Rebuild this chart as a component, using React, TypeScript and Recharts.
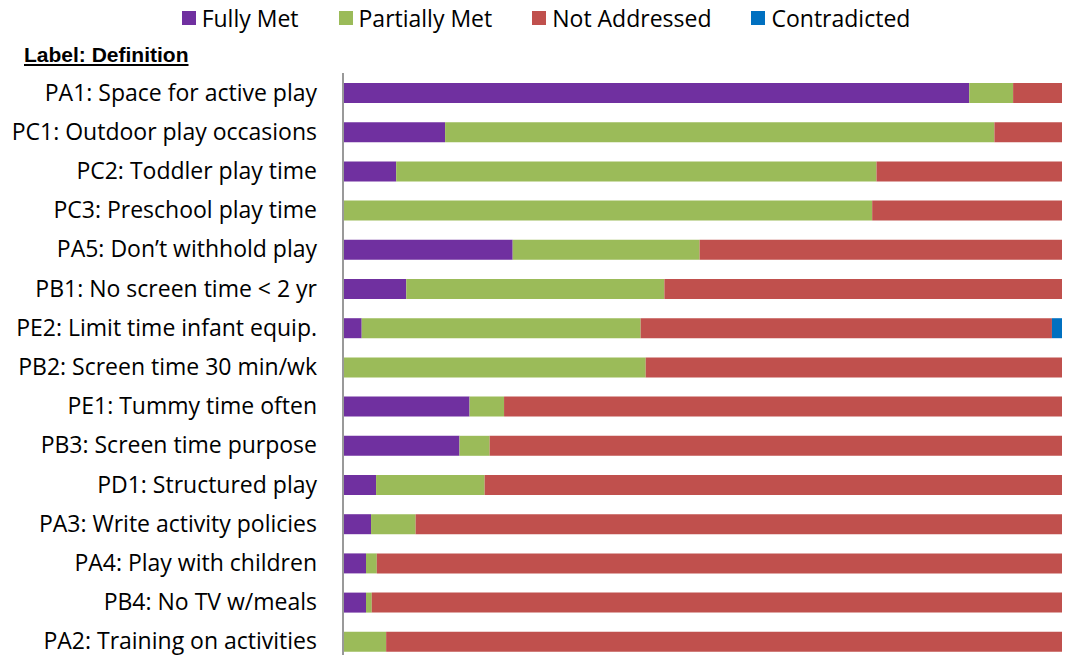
import React from 'react';
import { BarChart, Bar, XAxis, YAxis, Legend } from 'recharts';

const labels = [
  'PA1: Space for active play',
  'PC1: Outdoor play occasions',
  'PC2: Toddler play time',
  'PC3: Preschool play time',
  'PA5: Don\u2019t withhold play',
  'PB1: No screen time < 2 yr',
  'PE2: Limit time infant equip.',
  'PB2: Screen time 30 min/wk',
  'PE1: Tummy time often',
  'PB3: Screen time purpose',
  'PD1: Structured play',
  'PA3: Write activity policies',
  'PA4: Play with children',
  'PB4: No TV w/meals',
  'PA2: Training on activities',
];

// share of policies, percent
const fullyMet = [87.1, 14.2, 7.4, 0, 23.6, 8.8, 2.6, 0, 17.6, 16.2, 4.6, 3.9, 3.2, 3.2, 0];
const partiallyMet = [6.1, 76.4, 66.8, 73.6, 26.0, 35.9, 38.8, 42.1, 4.8, 4.2, 15.1, 6.2, 1.5, 0.8, 6.0];
const notAddressed = [6.8, 9.4, 25.8, 26.4, 50.4, 55.3, 57.2, 57.9, 77.6, 79.6, 80.3, 89.9, 95.3, 96.0, 94.0];
const contradicted = [0, 0, 0, 0, 0, 0, 1.4, 0, 0, 0, 0, 0, 0, 0, 0];

const series = [
  { key: 'fully', name: 'Fully Met', color: '#7030A0' },
  { key: 'partial', name: 'Partially Met', color: '#9BBB59' },
  { key: 'notAddr', name: 'Not Addressed', color: '#C0504D' },
  { key: 'contra', name: 'Contradicted', color: '#0070C0' },
];

const data = labels.map((label, i) => ({
  label,
  fully: fullyMet[i],
  partial: partiallyMet[i],
  notAddr: notAddressed[i],
  contra: contradicted[i],
}));

const FONT = '"Open Sans", "Noto Sans", sans-serif';

const LegendContent = () => (
  <div
    style={{
      height: 30,
      display: 'flex',
      justifyContent: 'center',
      alignItems: 'center',
      paddingLeft: 30,
      fontFamily: FONT,
      fontSize: 23,
      color: '#000',
    }}
  >
    {series.map((s, i) => (
      <span key={s.key} style={{ display: 'inline-flex', alignItems: 'center', marginLeft: i ? 40 : 0 }}>
        <span style={{ width: 14, height: 14, background: s.color, marginRight: 6, display: 'inline-block' }} />
        {s.name}
      </span>
    ))}
  </div>
);

const Tick = (props: any) => {
  const { x, y, payload } = props;
  return (
    <text x={x} y={y} dy={8} textAnchor="end" fontFamily={FONT} fontSize={23} fill="#000">
      {payload.value}
    </text>
  );
};

export default function App() {
  return (
    <div style={{ position: 'relative', width: 1073, height: 655, overflow: 'hidden', background: '#fff' }}>
      <style>{'body{margin:0}'}</style>
      <div
        style={{
          position: 'absolute',
          left: 24,
          top: 43,
          fontFamily: '"Liberation Sans", Arial, sans-serif',
          fontWeight: 'bold',
          fontSize: 21,
          textDecoration: 'underline',
          color: '#000',
        }}
      >
        Label: Definition
      </div>
      <BarChart
        width={1073}
        height={665}
        data={data}
        layout="vertical"
        barSize={20}
        margin={{ top: 43, right: 11, bottom: 4, left: 0 }}
      >
        <XAxis type="number" domain={[0, 100]} hide />
        <YAxis
          type="category"
          dataKey="label"
          width={343}
          tickLine={false}
          tickSize={0}
          tickMargin={26}
          axisLine={{ stroke: '#999', strokeWidth: 2 }}
          tick={<Tick />}
          interval={0}
        />
        <Legend verticalAlign="top" content={<LegendContent />} wrapperStyle={{ top: 3 }} />
        {series.map((s) => (
          <Bar key={s.key} dataKey={s.key} name={s.name} stackId="a" fill={s.color} isAnimationActive={false} />
        ))}
      </BarChart>
    </div>
  );
}
